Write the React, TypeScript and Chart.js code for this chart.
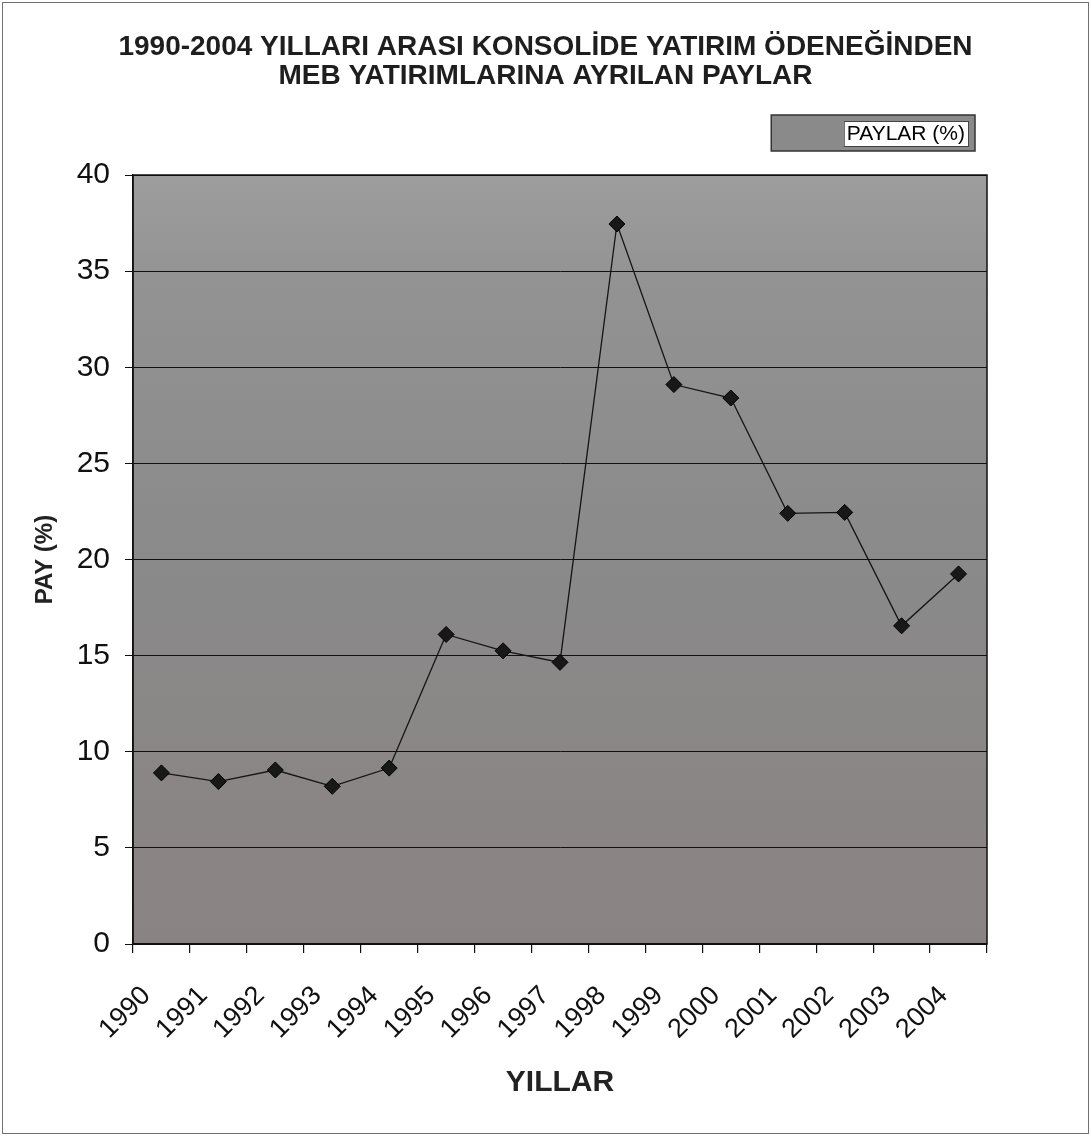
import React, { useEffect, useRef } from 'react';
import { Chart, registerables } from 'chart.js';

Chart.register(...registerables);

// ---- data ----
const years = ['1990', '1991', '1992', '1993', '1994', '1995', '1996', '1997', '1998', '1999', '2000', '2001', '2002', '2003', '2004'];
const shares = [8.9, 8.45, 9.05, 8.2, 9.15, 16.1, 15.25, 14.65, 37.45, 29.1, 28.4, 22.4, 22.45, 16.55, 19.25];
const yMin = 0;
const yMax = 40;
const yStep = 5;
const titleLines = ['1990-2004 YILLARI ARASI KONSOLİDE YATIRIM ÖDENEĞİNDEN', 'MEB YATIRIMLARINA AYRILAN PAYLAR'];
const seriesLabel = 'PAYLAR (%)';
const xAxisTitle = 'YILLAR';
const yAxisTitle = 'PAY (%)';

const FONT = '"Liberation Sans", Arial, "DejaVu Sans", sans-serif';
const W = 1091;
const H = 1136;
const LEGEND_BOX_W = 62;
const LEGEND_FONT = 21;

const decorPlugin = {
  id: 'decor',
  beforeDraw(chart: any) {
    const { ctx, chartArea: a, width, height } = chart;
    ctx.save();
    ctx.fillStyle = '#ffffff';
    ctx.fillRect(0, 0, width, height);
    ctx.strokeStyle = '#707070';
    ctx.lineWidth = 1;
    ctx.strokeRect(2.5, 2.5, width - 5, height - 5);
    const g = ctx.createLinearGradient(0, a.top, 0, a.bottom);
    g.addColorStop(0, '#9d9d9d');
    g.addColorStop(0.15, '#929292');
    g.addColorStop(0.5, '#8a8a8a');
    g.addColorStop(1, '#8a8383');
    ctx.fillStyle = g;
    ctx.fillRect(a.left, a.top, a.right - a.left, a.bottom - a.top);
    const hb = chart.legend && chart.legend.legendHitBoxes && chart.legend.legendHitBoxes[0];
    if (hb) {
      const l = hb.left - 3;
      const t = hb.top - 4;
      const r = hb.left + hb.width + 10;
      const b = hb.top + hb.height + 2;
      ctx.fillStyle = '#8a8a8a';
      ctx.fillRect(l, t, r - l, b - t);
      ctx.strokeStyle = '#333';
      ctx.lineWidth = 1.5;
      ctx.strokeRect(l, t, r - l, b - t);
      const ts = hb.left + LEGEND_BOX_W + LEGEND_FONT / 2 - 3;
      const te = hb.left + hb.width + 3;
      ctx.fillStyle = '#ffffff';
      ctx.fillRect(ts, hb.top + 2, te - ts, hb.height - 5);
      ctx.strokeStyle = '#444';
      ctx.lineWidth = 1;
      ctx.strokeRect(ts + 0.5, hb.top + 2.5, te - ts, hb.height - 5);
    }
    ctx.restore();
  },
  afterDraw(chart: any) {
    const { ctx, chartArea: a } = chart;
    ctx.save();
    ctx.strokeStyle = '#111';
    ctx.lineWidth = 1.5;
    ctx.strokeRect(a.left, a.top, a.right - a.left, a.bottom - a.top);
    ctx.restore();
  },
};

export default function App() {
  const ref = useRef<HTMLCanvasElement | null>(null);

  useEffect(() => {
    document.body.style.margin = '0';
    const canvas = ref.current;
    if (!canvas) return;
    const chart = new Chart(canvas, {
      type: 'line',
      data: {
        labels: years,
        datasets: [
          {
            label: seriesLabel,
            data: shares,
            borderColor: '#151515',
            borderWidth: 1.3,
            backgroundColor: '#8a8a8a',
            pointStyle: 'rectRot',
            pointRadius: 8,
            pointBackgroundColor: '#181818',
            pointBorderColor: '#000',
            pointBorderWidth: 1,
            tension: 0,
            fill: false,
          },
        ],
      },
      options: {
        responsive: false,
        animation: false,
        devicePixelRatio: 1,
        layout: { padding: { left: 10, right: 10, top: 10, bottom: 10 } },
        plugins: {
          title: {
            display: true,
            text: titleLines,
            color: '#1e1e1e',
            font: { family: FONT, size: 28, weight: 'bold', lineHeight: 29 / 28 },
            padding: { top: 23, bottom: 6 },
          },
          legend: {
            display: true,
            position: 'top',
            align: 'end',
            fullSize: false,
            labels: {
              boxWidth: LEGEND_BOX_W,
              boxHeight: 30,
              padding: 22,
              color: '#111',
              font: { family: FONT, size: LEGEND_FONT },
              generateLabels: () => [
                {
                  text: seriesLabel,
                  fillStyle: '#8a8a8a',
                  strokeStyle: '#8a8a8a',
                  lineWidth: 0,
                  hidden: false,
                  datasetIndex: 0,
                },
              ],
            },
          },
          subtitle: {
            display: true,
            text: '',
            weight: 500,
            font: { family: FONT, size: 10, lineHeight: 1 },
            padding: { top: 0, bottom: 6 },
          },
          tooltip: { enabled: false },
        },
        scales: {
          x: {
            type: 'category',
            offset: true,
            grid: {
              display: true,
              offset: true,
              drawOnChartArea: false,
              drawTicks: true,
              tickLength: 9,
              color: '#111',
              lineWidth: 1.2,
            },
            border: { display: true, color: '#111', width: 1.5 },
            ticks: {
              autoSkip: false,
              minRotation: 45,
              maxRotation: 45,
              padding: 27,
              labelOffset: -15,
              color: '#111',
              font: { family: FONT, size: 27 },
            },
            title: {
              display: true,
              text: xAxisTitle,
              color: '#222',
              font: { family: FONT, size: 30, weight: 'bold', lineHeight: 1.2 },
              padding: { top: 0, bottom: 25 },
            },
            afterFit: (scale: any) => {
              scale.height = 182;
            },
          },
          y: {
            type: 'linear',
            position: 'left',
            min: yMin,
            max: yMax,
            grid: {
              display: true,
              color: '#111',
              lineWidth: 1,
              drawTicks: true,
              tickLength: 8,
            },
            border: { display: true, color: '#111', width: 1.5 },
            ticks: {
              stepSize: yStep,
              padding: 15,
              color: '#111',
              font: { family: FONT, size: 30 },
            },
            title: {
              display: true,
              text: yAxisTitle,
              color: '#222',
              font: { family: FONT, size: 24, weight: 'bold', lineHeight: 1.2 },
              padding: { top: 21, bottom: 0 },
            },
            afterFit: (scale: any) => {
              scale.width = 123;
            },
          },
          spacer: {
            type: 'linear',
            position: 'right',
            display: true,
            grid: { display: false },
            border: { display: false },
            ticks: { display: false },
            afterFit: (scale: any) => {
              scale.width = 94;
            },
          },
        },
      } as any,
      plugins: [decorPlugin],
    });
    return () => chart.destroy();
  }, []);

  return (
    <div style={{ position: 'absolute', left: 0, top: 0, width: W, height: H, background: '#fff' }}>
      <canvas ref={ref} width={W} height={H} style={{ display: 'block', width: W, height: H }} />
    </div>
  );
}
